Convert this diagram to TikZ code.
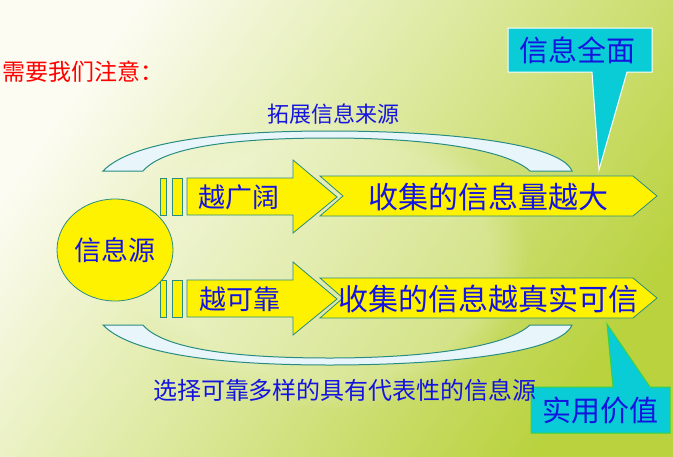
\documentclass[tikz,border=0pt]{standalone}
\usepackage{fontspec}
\setmainfont{Noto Sans CJK SC}
\usepackage{tikz}
\usetikzlibrary{shapes.geometric,fadings}
\definecolor{bgtop}{RGB}{252,252,242}
\definecolor{bgmid}{RGB}{224,236,145}
\definecolor{bgbot}{RGB}{185,210,62}
\definecolor{tealline}{RGB}{40,140,130}
\definecolor{bandfill}{RGB}{232,246,252}
\definecolor{callcyan}{RGB}{10,204,214}
\definecolor{callgreen}{RGB}{60,210,60}
\definecolor{txtblue}{RGB}{20,20,225}
\tikzset{
  band/.style={draw=tealline,fill=bandfill,line width=1pt},
  yel/.style={draw=tealline,fill=yellow,line width=0.8pt},
  call/.style={fill=callcyan,line width=1pt},
  txt/.style={text=txtblue,inner sep=0pt},
  fs/.style={font=\fontsize{#1}{#1}\selectfont},
}

\begin{document}
\begin{tikzpicture}[x=1pt,y=-1pt]
  \useasboundingbox (0,0) rectangle (673,456);
  % fond
  \shade[top color=bgtop,middle color=bgmid,bottom color=bgbot,shading angle=55]
    (0,0) rectangle (673,456);
  \fill[white,opacity=.22,path fading=circle with fuzzy edge 20 percent]
    (330,260) ellipse (200 and 150);
  % bandes courbes
  \draw[band] (103,171) .. controls (135,138) and (240,131) .. (330,131)
    .. controls (440,131) and (560,142) .. (572,171) -- (530,171)
    .. controls (505,148) and (420,138) .. (330,138)
    .. controls (245,138) and (165,145) .. (143,171) -- cycle;
  \draw[band] (103,325) .. controls (135,358) and (240,365) .. (330,365)
    .. controls (440,365) and (560,354) .. (572,325) -- (530,325)
    .. controls (505,348) and (420,358) .. (330,358)
    .. controls (245,358) and (165,351) .. (143,325) -- cycle;
  % deux rangees : fleche + chevron
  \foreach \dy in {0,102}{
    \begin{scope}[shift={(0,\dy)}]
      \draw[yel] (320,176) -- (633,176) -- (657,196) -- (633,216) -- (320,216)
        -- (343,196) -- cycle;
      \draw[yel] (187,178) -- (293,178) -- (293,160) -- (337,197) -- (293,233)
        -- (293,215) -- (187,215) -- cycle;
      \draw[yel] (160,178) rectangle (166,215);
      \draw[yel] (172,178) rectangle (182,215);
    \end{scope}
  }
  \node[ellipse,yel,minimum width=116,minimum height=102,txt,fs=27] (src) at (115,250) {信息源};
  % bulles
  \draw[call,draw=white] (508,28) -- (652,28) -- (652,72) -- (627,72) -- (599,170)
    -- (592,72) -- (508,72) -- cycle;
  \draw[call,draw=callgreen] (531,387) -- (613,387) -- (607,324) -- (650,387)
    -- (670,387) -- (670,433) -- (531,433) -- cycle;
  % textes
  \node[txt,text=red,fs=23,anchor=west] (note) at (2,72) {需要我们注意：};
  \node[txt,fs=22] (wide) at (333,114) {拓展信息来源};
  \node[txt,fs=29] (full) at (577,50) {信息全面};
  \node[txt,fs=27] (broad) at (239,197) {越广阔};
  \node[txt,fs=30] (more) at (488,197) {收集的信息量越大};
  \node[txt,fs=27] (sure) at (240,299) {越可靠};
  \node[txt,fs=30] (true) at (488,299) {收集的信息越真实可信};
  \node[txt,fs=24] (pick) at (345,390) {选择可靠多样的具有代表性的信息源};
  \node[txt,fs=29] (use) at (600,410) {实用价值};
\end{tikzpicture}
\end{document}
